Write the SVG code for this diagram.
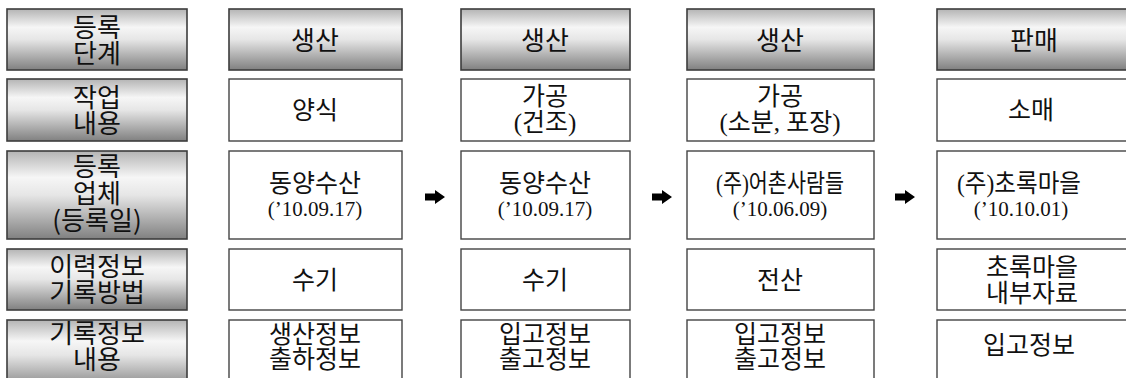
<svg xmlns="http://www.w3.org/2000/svg" width="1126" height="378" viewBox="0 0 1126 378">
<defs>
<linearGradient id="hg" x1="0" y1="0" x2="0" y2="1">
<stop offset="0" stop-color="#b4b4b4"/>
<stop offset="0.3" stop-color="#f6f6f6"/>
<stop offset="0.5" stop-color="#e6e6e6"/>
<stop offset="1" stop-color="#808080"/>
</linearGradient>
<path id="arr" d="M0,-3.5 H10 V-7 L20,0 L10,7 V3.5 H0 Z"/>
</defs>
<style>
.h{fill:url(#hg);stroke:#3c3c3c;stroke-width:1.6}
.d{fill:#fff;stroke:#444;stroke-width:1.4}
.ht{font-family:"Noto Sans CJK KR",sans-serif;font-size:26px;text-anchor:middle;fill:#111}
.dt{font-family:"Liberation Serif","Noto Sans CJK KR",serif;font-size:25px;text-anchor:middle;fill:#111}
.dd{font-family:"Liberation Serif",serif;font-size:21px;text-anchor:middle;fill:#111}
</style>
<rect width="1126" height="378" fill="#fff"/>

<g id="label-col">
<rect class="h" x="7" y="9" width="180" height="61"/>
<text class="ht" x="97" y="37">등록</text>
<text class="ht" x="97" y="63">단계</text>
<rect class="h" x="7" y="79" width="180" height="62"/>
<text class="ht" x="97" y="107">작업</text>
<text class="ht" x="97" y="133">내용</text>
<rect class="h" x="7" y="151" width="180" height="88"/>
<text class="ht" x="97" y="176">등록</text>
<text class="ht" x="97" y="203">업체</text>
<text class="ht" x="97" y="230">(등록일)</text>
<rect class="h" x="7" y="249" width="180" height="61"/>
<text class="ht" x="97" y="276">이력정보</text>
<text class="ht" x="97" y="302">기록방법</text>
<rect class="h" x="7" y="320" width="180" height="70"/>
<text class="ht" x="97" y="343">기록정보</text>
<text class="ht" x="97" y="369">내용</text>
</g>

<g id="col1">
<rect class="h" x="229" y="9" width="173" height="61"/>
<text class="ht" x="315" y="50">생산</text>
<rect class="d" x="229" y="79" width="173" height="62"/>
<text class="dt" x="315" y="119">양식</text>
<rect class="d" x="229" y="151" width="173" height="88"/>
<text class="dt" x="315" y="192">동양수산</text>
<text class="dd" x="315" y="216">(’10.09.17)</text>
<rect class="d" x="229" y="249" width="173" height="61"/>
<text class="dt" x="315" y="289">수기</text>
<rect class="d" x="229" y="320" width="173" height="70"/>
<text class="dt" x="315" y="343">생산정보</text>
<text class="dt" x="315" y="368">출하정보</text>
</g>

<g id="col2">
<rect class="h" x="461" y="9" width="169" height="61"/>
<text class="ht" x="545" y="50">생산</text>
<rect class="d" x="461" y="79" width="169" height="62"/>
<text class="dt" x="545" y="105">가공</text>
<text class="dt" x="545" y="131">(건조)</text>
<rect class="d" x="461" y="151" width="169" height="88"/>
<text class="dt" x="545" y="192">동양수산</text>
<text class="dd" x="545" y="216">(’10.09.17)</text>
<rect class="d" x="461" y="249" width="169" height="61"/>
<text class="dt" x="545" y="289">수기</text>
<rect class="d" x="461" y="320" width="169" height="70"/>
<text class="dt" x="545" y="343">입고정보</text>
<text class="dt" x="545" y="368">출고정보</text>
</g>

<g id="col3">
<rect class="h" x="687" y="9" width="187" height="61"/>
<text class="ht" x="780" y="50">생산</text>
<rect class="d" x="687" y="79" width="187" height="62"/>
<text class="dt" x="780" y="105">가공</text>
<text class="dt" x="780" y="131">(소분, 포장)</text>
<rect class="d" x="687" y="151" width="187" height="88"/>
<text class="dt" x="780" y="192" textLength="128" lengthAdjust="spacingAndGlyphs">(주)어촌사람들</text>
<text class="dd" x="780" y="216">(’10.06.09)</text>
<rect class="d" x="687" y="249" width="187" height="61"/>
<text class="dt" x="780" y="289">전산</text>
<rect class="d" x="687" y="320" width="187" height="70"/>
<text class="dt" x="780" y="343">입고정보</text>
<text class="dt" x="780" y="368">출고정보</text>
</g>

<g id="col4">
<rect class="h" x="937" y="9" width="196" height="61"/>
<text class="ht" x="1034" y="50">판매</text>
<rect class="d" x="937" y="79" width="196" height="62"/>
<text class="dt" x="1031" y="119">소매</text>
<rect class="d" x="937" y="151" width="196" height="88"/>
<text class="dt" x="1019" y="192" textLength="124" lengthAdjust="spacingAndGlyphs">(주)초록마을</text>
<text class="dd" x="1021" y="216">(’10.10.01)</text>
<rect class="d" x="937" y="249" width="196" height="61"/>
<text class="dt" x="1032" y="276">초록마을</text>
<text class="dt" x="1032" y="302">내부자료</text>
<rect class="d" x="937" y="320" width="196" height="70"/>
<text class="dt" x="1029" y="354">입고정보</text>
</g>

<g id="connectors" fill="#000">
<use href="#arr" x="425" y="197"/>
<use href="#arr" x="652" y="197"/>
<use href="#arr" x="895" y="197"/>
</g>
</svg>
